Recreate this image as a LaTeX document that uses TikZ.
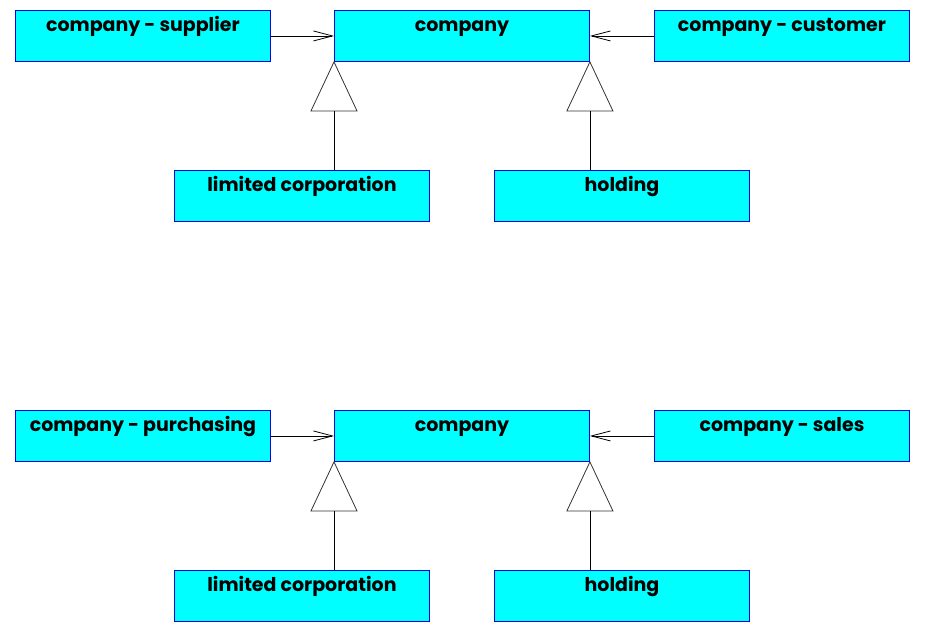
\documentclass[tikz,border=0pt]{standalone}
\usepackage{fontspec}
\setmainfont{Poppins}
\usetikzlibrary{arrows.meta,calc}
\definecolor{boxfill}{RGB}{0,255,255}
\definecolor{boxline}{RGB}{0,0,230}
\tikzset{
  cls/.style={draw=boxline, fill=boxfill, line width=0.9pt, minimum width=255pt,
    minimum height=51pt, inner xsep=0pt, inner ysep=0pt, text height=21pt, text depth=30pt,
    anchor=north west, font=\fontsize{19}{21}\selectfont\bfseries, align=center},
  assoc/.style={draw=black, line width=0.8pt, -{Straight Barb[length=19pt,width=10pt,line width=0.8pt]}},
  gen/.style={draw=black!80, line width=0.8pt},
  link/.style={draw=black, line width=0.8pt}
}
\begin{document}
\begin{tikzpicture}[x=1pt,y=-1pt]
\useasboundingbox (0,0) rectangle (944,626);
\foreach \dy/\l/\r/\p in {0/company - supplier/company - customer/a, 400/company - purchasing/company - sales/b}{
  \node[cls] (\p c) at (334,10+\dy) {company};
  \node[cls] (\p l) at (15,10+\dy) {\l};
  \node[cls] (\p r) at (654,10+\dy) {\r};
  \node[cls] (\p lc) at (174,170+\dy) {limited corporation};
  \node[cls] (\p h) at (494,170+\dy) {holding};
  \draw[assoc] (\p l.east) -- (\p c.west);
  \draw[assoc] (\p r.west) -- (\p c.east);
  \coordinate (\p t1) at ($(\p c.south west)+(0,49)$);
  \coordinate (\p t2) at ($(\p c.south east)+(0,49)$);
  \draw[gen] (\p c.south west) -- ($(\p t1)+(-23,0)$) -- ($(\p t1)+(23,0)$) -- cycle;
  \draw[gen] (\p c.south east) -- ($(\p t2)+(-23,0)$) -- ($(\p t2)+(23,0)$) -- cycle;
  \draw[link] (\p t1) -- (\p lc.north -| \p t1);
  \draw[link] (\p t2) -- (\p h.north -| \p t2);
}
\end{tikzpicture}
\end{document}
